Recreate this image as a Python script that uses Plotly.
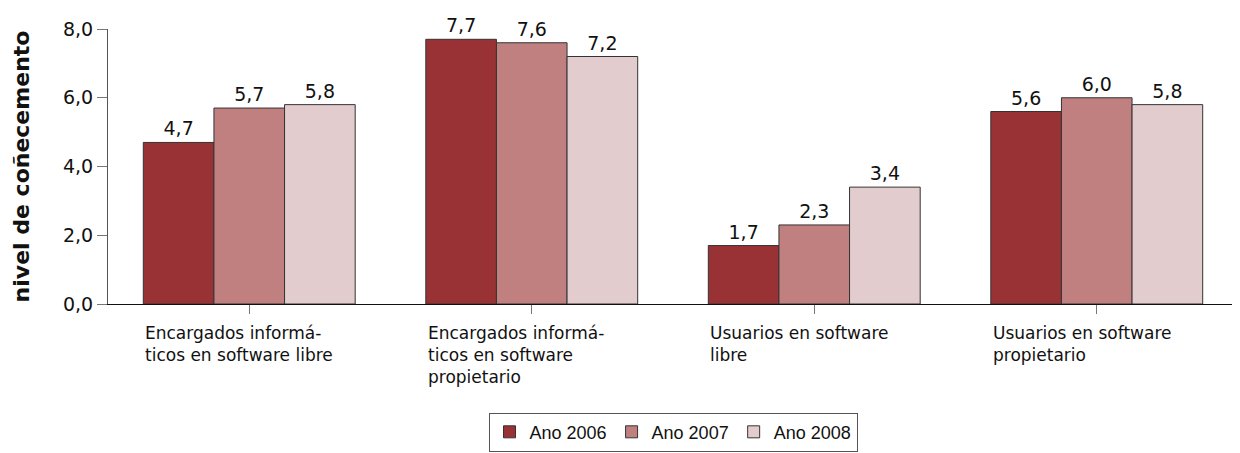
import plotly.graph_objects as go

categories = [
    "Encargados informá-<br>ticos en software libre",
    "Encargados informá-<br>ticos en software<br>propietario",
    "Usuarios en software<br>libre",
    "Usuarios en software<br>propietario",
]
series_names = ["Ano 2006", "Ano 2007", "Ano 2008"]
values_2006 = [4.7, 7.7, 1.7, 5.6]
values_2007 = [5.7, 7.6, 2.3, 6.0]
values_2008 = [5.8, 7.2, 3.4, 5.8]
y_ticks = [0, 2, 4, 6, 8]

colors = ["#993235", "#C08080", "#E3CCCD"]
font_main = "DejaVu Sans"

fig = go.Figure()
x_idx = list(range(len(categories)))
for name, vals, col in zip(series_names, [values_2006, values_2007, values_2008], colors):
    fig.add_trace(go.Bar(
        x=x_idx, y=vals, name=name,
        marker=dict(color=col, line=dict(color="#333333", width=1)),
        text=[f"{v:.1f}".replace(".", ",") for v in vals],
        textposition="outside", cliponaxis=False, constraintext="none",
        textfont=dict(family=font_main, size=19, color="#111111"),
    ))

for i, cat in enumerate(categories):
    fig.add_annotation(
        x=i - 0.375, xref="x", xanchor="left",
        y=-0.06, yref="paper", yanchor="top",
        text=cat, align="left", showarrow=False,
        font=dict(family=font_main, size=17, color="#111111"),
    )

# page body has an 8px default margin, so the figure is a bit smaller
fig.update_layout(
    width=1232, height=445,
    margin=dict(l=100, r=2, t=21, b=149),
    paper_bgcolor="white", plot_bgcolor="white",
    barmode="group", bargap=0.25, bargroupgap=0,
    separators=",.",
    showlegend=True,
    legend=dict(
        orientation="h", x=0.5, xanchor="center", y=-0.395, yanchor="top",
        bordercolor="#555555", borderwidth=1,
        font=dict(family="Liberation Sans", size=18, color="#111111"),
        itemwidth=30,
    ),
    font=dict(family=font_main, size=16, color="#111111"),
)
fig.update_xaxes(
    range=[-0.5, len(categories) - 0.5], tickvals=x_idx, showticklabels=False,
    ticks="outside", ticklen=9, tickcolor="#777777", automargin=False,
    showline=True, linecolor="#111111", linewidth=1, showgrid=False, zeroline=False,
)
fig.update_yaxes(
    range=[0, 8], tickvals=y_ticks, tickformat=".1f",
    ticks="outside", ticklen=10, tickcolor="#777777", automargin=False,
    showline=True, linecolor="#555555", linewidth=1, showgrid=False, zeroline=False,
    title=dict(text="<b>nivel de coñecemento</b>", font=dict(family=font_main, size=22), standoff=27),
    tickfont=dict(family=font_main, size=19),
)

fig.write_html("out.html")
